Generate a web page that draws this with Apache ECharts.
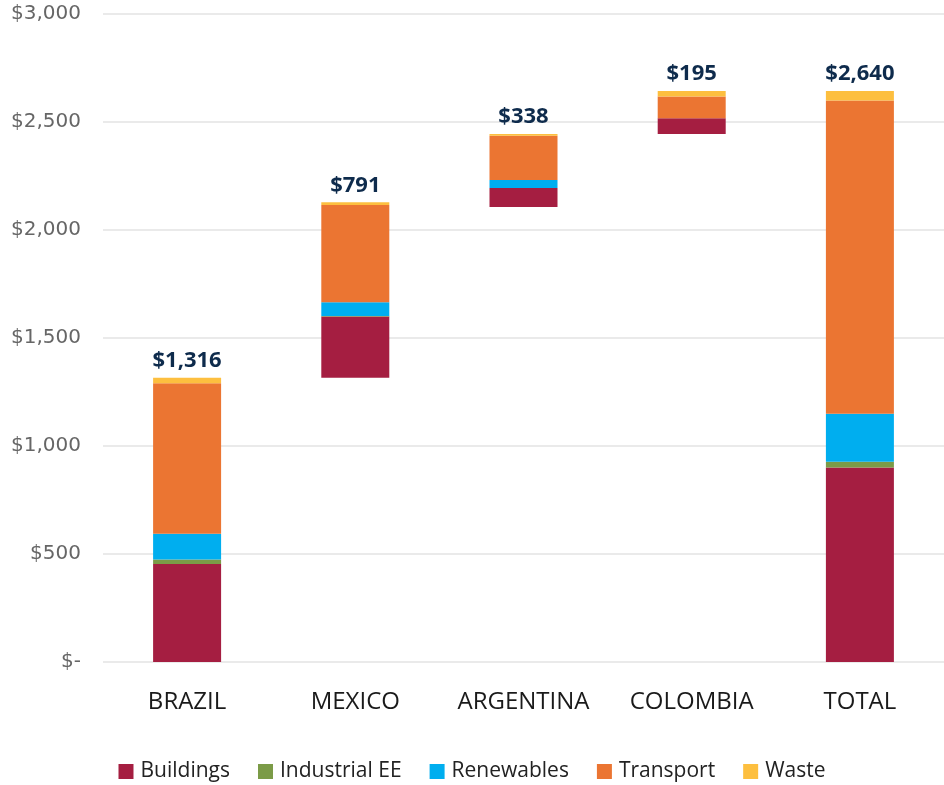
<!DOCTYPE html>
<html>
<head>
<meta charset="utf-8">
<script src="https://cdn.jsdelivr.net/npm/echarts@6/dist/echarts.min.js"></script>
<style>html,body{margin:0;padding:0;background:#fff;}#c{width:944px;height:785px;}</style>
</head>
<body>
<div id="c"></div>
<script>
const categories = ['BRAZIL', 'MEXICO', 'ARGENTINA', 'COLOMBIA', 'TOTAL'];
const baseValues = [0, 1316, 2107, 2445, 0];
const buildings = [454, 284, 88, 72, 900];
const industrialEE = [20, 2, 0, 0, 27];
const renewables = [120, 63, 37, 0, 222];
const transport = [697, 451, 204, 101, 1450];
const waste = [25, 12, 9, 26, 45];
const totalLabels = ['$1,316', '$791', '$338', '$195', '$2,640'];
const yTicks = [0, 500, 1000, 1500, 2000, 2500, 3000];

const FONT = '"Open Sans", sans-serif';
const colors = {
  'Buildings': '#A51E41',
  'Industrial EE': '#7B9B47',
  'Renewables': '#00AEEF',
  'Transport': '#EB7532',
  'Waste': '#FDBF3F'
};
const seriesData = [
  ['Buildings', buildings],
  ['Industrial EE', industrialEE],
  ['Renewables', renewables],
  ['Transport', transport],
  ['Waste', waste]
];

const chart = echarts.init(document.getElementById('c'));
const series = [{
  name: 'base', type: 'bar', stack: 'all', data: baseValues,
  itemStyle: { color: 'transparent' }, silent: true, barWidth: 68
}];
seriesData.forEach(([name, vals], i) => {
  const s = {
    name, type: 'bar', stack: 'all', data: vals, barWidth: 68,
    itemStyle: { color: colors[name] }
  };
  if (i === seriesData.length - 1) {
    s.label = {
      show: true, position: 'top', distance: 6,
      formatter: p => totalLabels[p.dataIndex],
      fontFamily: FONT, fontWeight: 'bold', fontSize: 22, color: '#0E2B4C'
    };
  }
  series.push(s);
});

chart.setOption({
  animation: false,
  backgroundColor: '#fff',
  grid: { left: 103, right: 0, top: 14, bottom: 123 },
  legend: {
    data: seriesData.map(d => d[0]),
    top: 761, left: 'center', padding: 0,
    itemWidth: 15, itemHeight: 15, itemGap: 28,
    icon: 'rect',
    textStyle: { fontFamily: FONT, fontSize: 21, color: '#222', padding: [0, 0, 0, 2] }
  },
  xAxis: {
    type: 'category', data: categories,
    axisLine: { show: false }, axisTick: { show: false },
    axisLabel: { interval: 0, fontFamily: FONT, fontSize: 24, color: '#1a1a1a', margin: 28 }
  },
  yAxis: {
    type: 'value', min: 0, max: 3000, interval: 500,
    axisLine: { show: false }, axisTick: { show: false },
    splitLine: { lineStyle: { color: '#e3e3e3', width: 1.5 } },
    axisLabel: {
      fontFamily: '"DejaVu Sans", sans-serif', fontSize: 20, color: '#666', margin: 22,
      formatter: v => v === 0 ? '$-' : '$' + v.toLocaleString('en-US')
    }
  },
  series
});
</script>
</body>
</html>
